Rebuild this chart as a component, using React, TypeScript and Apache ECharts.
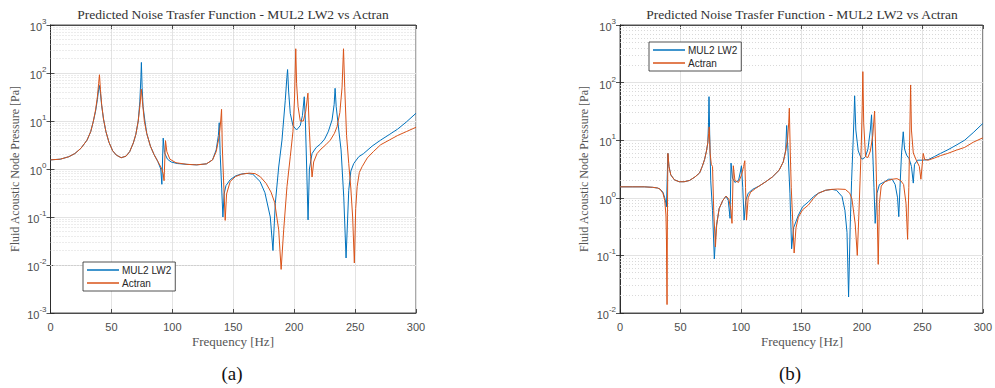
import React, { useEffect, useRef } from "react";
import * as echarts from "echarts";

// ---------- Data ----------
const xTicks = [0, 50, 100, 150, 200, 250, 300];

// (a) MUL2 LW2
const aBlueHz = [0, 8, 15, 20, 25, 30, 33, 35, 37, 38.5, 39.5, 40.1, 41, 42, 43.5, 45.5, 48, 51, 54, 58, 62, 65, 68, 70, 72, 73.3, 74.2, 74.6, 75.2, 76, 77.5, 79, 82, 85, 88, 90.5, 91.4, 92.5, 93.5, 96, 99, 104, 112, 120, 128, 133, 136, 137.8, 138.5, 139.3, 140.5, 141.5, 142.5, 144, 147.5, 152, 157, 161, 166, 172, 176, 180.4, 182.6, 184.5, 187.3, 190, 192.7, 194, 194.6, 195.5, 196.8, 199, 202, 205, 206.8, 208.3, 209.2, 210.3, 211.4, 212.5, 214.7, 218, 221.5, 225, 228, 231.1, 232.8, 233.6, 234.5, 236.6, 238.5, 240.7, 242.6, 244.8, 246.5, 248.9, 253, 257, 264, 271, 278, 285, 292, 300];
const aBlueVal = [1.55, 1.6, 1.8, 2.1, 2.7, 4.0, 6, 9.5, 16, 28, 45, 55, 38, 21, 11, 6, 3.6, 2.4, 1.95, 1.72, 1.85, 2.3, 3.5, 5.2, 10, 25, 80, 166, 50, 20, 10, 5.5, 3, 2, 1.45, 1.0, 0.48, 4.4, 2.2, 1.6, 1.4, 1.3, 1.25, 1.22, 1.28, 1.55, 2.5, 5, 9.2, 2, 0.4, 0.1, 0.3, 0.45, 0.6, 0.72, 0.79, 0.81, 0.78, 0.55, 0.32, 0.1, 0.02, 0.19, 1.1, 4, 27, 80, 118, 40, 14.4, 8, 6.5, 8, 13, 32, 10, 1, 0.087, 1, 2.1, 2.8, 3.3, 4.2, 6, 10.5, 22, 48, 20, 6.5, 2.5, 0.26, 0.014, 0.36, 0.9, 1.3, 1.8, 2.1, 3.0, 4.0, 5.2, 6.8, 9.5, 14.5];

// (a) Actran
const aOrangeHz = [0, 8, 15, 20, 25, 30, 33, 35, 37, 38.5, 39.5, 40.2, 41, 42, 43.5, 45.5, 48, 51, 54, 58, 62, 65, 68, 70, 72, 73.5, 74.5, 75.5, 77, 79, 82, 85, 88, 91, 92.5, 93.2, 94.4, 95.5, 98, 103, 112, 120, 128, 133, 136, 138.5, 139.7, 140.4, 141, 142.3, 143.4, 144.5, 147.5, 152, 157, 163, 168, 172.2, 177, 181, 184, 187.3, 189.3, 191.4, 194.1, 196.8, 199, 200.3, 201.3, 202, 203.2, 205, 207.5, 209.5, 211.3, 212.3, 213.5, 214.7, 216, 218.8, 222, 226, 229.7, 233, 235.2, 237.5, 239.3, 240.5, 241.5, 243, 244.8, 246.5, 248, 249.4, 250.5, 251.7, 253.5, 255.8, 260, 265, 271, 278, 285, 292, 300];
const aOrangeVal = [1.55, 1.6, 1.8, 2.1, 2.7, 4.0, 6, 9.5, 17, 32, 60, 92, 45, 22, 11, 6, 3.6, 2.4, 1.95, 1.72, 1.85, 2.3, 3.5, 5.2, 10, 22, 46, 25, 10, 5.5, 3, 2, 1.45, 1.05, 0.8, 0.57, 3.9, 2.3, 1.6, 1.35, 1.25, 1.22, 1.28, 1.55, 2.3, 4.8, 10, 17.5, 3, 0.4, 0.085, 0.3, 0.55, 0.7, 0.78, 0.82, 0.8, 0.69, 0.5, 0.33, 0.2, 0.054, 0.0081, 0.054, 0.43, 1.8, 6, 30, 320, 60, 20, 10, 10, 16, 38, 8, 1.8, 0.68, 1.4, 2.1, 2.6, 3.2, 4.0, 5.5, 7.6, 15, 50, 320, 50, 5, 1.3, 0.4, 0.1, 0.011, 0.15, 0.43, 0.85, 1.12, 1.7, 2.3, 3.2, 4.0, 5.0, 6.0, 7.4];

// (b) MUL2 LW2
const bBlueHz = [0, 10, 20, 27, 31, 33, 35.5, 37, 38, 38.4, 39.1, 39.6, 40.5, 42, 45, 49, 53, 57.5, 62, 65.8, 68, 69.9, 71.5, 72.6, 73.2, 73.6, 74.1, 75, 76.5, 78, 79.5, 82, 85, 87.7, 89.5, 91, 91.8, 93, 95, 98, 99.5, 100.4, 101.5, 102.6, 104, 106, 109.6, 115, 120.5, 126, 131.5, 135, 137, 137.8, 139, 140.5, 141.9, 143.5, 147.5, 151, 155.8, 160, 164, 170, 175.3, 179, 183.6, 186, 187.7, 189, 190.3, 191.5, 192.8, 193.6, 194, 195, 197, 199.5, 201, 203, 205, 207, 208, 209, 210, 211, 212.5, 214.5, 218.8, 222, 225, 227.5, 229.5, 230.5, 231.5, 232.8, 234.2, 235.3, 237, 239, 241, 242.5, 243.5, 246, 250, 254.8, 260, 265, 271, 278, 285, 292, 300];
const bBlueVal = [1.55, 1.55, 1.55, 1.52, 1.48, 1.42, 1.25, 1.0, 0.8, 0.7, 2.5, 5.9, 3.5, 2.5, 2.05, 1.9, 1.9, 2.0, 2.3, 2.7, 3.5, 4.6, 6.5, 9, 20, 57, 15, 2, 0.6, 0.087, 0.3, 0.65, 0.9, 1.07, 0.9, 0.44, 4.0, 2.2, 1.85, 2.0, 2.8, 3.6, 1.5, 0.41, 0.9, 1.2, 1.4, 1.6, 1.9, 2.3, 3.0, 4.2, 6.7, 18, 6, 1.2, 0.13, 0.3, 0.5, 0.7, 0.85, 1.05, 1.2, 1.35, 1.4, 1.35, 1.05, 0.6, 0.25, 0.019, 0.3, 2, 10, 30, 59, 15, 6.5, 4.8, 4.7, 5.2, 7, 15, 27.6, 6, 1.5, 0.36, 1.2, 1.7, 1.9, 2.1, 2.1, 1.7, 1.0, 0.47, 1.5, 6, 14, 7, 5.5, 4.8, 3.5, 1.8, 3.8, 4.5, 4.5, 4.6, 5.2, 5.9, 6.8, 8.2, 10, 13.5, 19.5];

// (b) Actran
const bOrangeHz = [0, 10, 20, 27, 31, 33, 35.5, 37, 38, 38.4, 38.9, 39.2, 39.6, 40.5, 42, 45, 49, 53, 57.5, 62, 65.8, 68, 69.9, 71.5, 72.6, 73.3, 73.8, 74.5, 75.5, 76.5, 77.5, 78.9, 80, 82, 85, 87.7, 90, 91.8, 92.6, 93.7, 95, 98, 100.5, 102.2, 103.2, 103.8, 104.6, 106, 108, 112, 120.5, 126, 131.5, 135, 137, 138.5, 139.5, 140, 140.8, 141.6, 142.8, 144, 145.5, 147.5, 151, 155.8, 160, 164, 170, 175.3, 180, 186.3, 190, 191.8, 194.5, 196.2, 197.5, 198.5, 199.5, 200.3, 200.8, 201.5, 203, 205, 207, 209, 210.5, 211.5, 212.5, 213.5, 214.5, 216, 219, 222, 225, 229, 232, 234.5, 236.5, 237.8, 238.8, 239.5, 240.3, 241, 242.5, 245, 247.5, 248.8, 250, 250.7, 252, 254.8, 260, 265, 271, 278, 285, 292, 300];
const bOrangeVal = [1.55, 1.55, 1.55, 1.52, 1.48, 1.42, 1.2, 0.9, 0.5, 0.2, 0.014, 0.5, 5.9, 3.5, 2.5, 2.05, 1.9, 1.9, 2.0, 2.3, 2.7, 3.5, 4.6, 6.5, 9, 13, 17, 6, 3.8, 3.5, 0.6, 0.14, 0.35, 0.65, 0.9, 1.07, 0.95, 0.6, 0.36, 3.6, 2.0, 1.85, 2.5, 3.5, 4.4, 1.5, 0.41, 1.0, 1.25, 1.45, 1.9, 2.3, 3.0, 4.2, 6.5, 10, 20, 36, 6, 1.5, 0.4, 0.11, 0.3, 0.46, 0.62, 0.75, 0.98, 1.2, 1.35, 1.4, 1.42, 1.4, 1.2, 0.95, 0.35, 0.1, 0.5, 2, 8, 40, 155, 20, 5.2, 5.0, 6.5, 12, 32, 6, 0.8, 0.07, 0.8, 1.6, 1.9, 2.0, 2.1, 2.15, 2.0, 1.7, 0.8, 0.19, 1.5, 10, 91, 15, 6, 4.5, 3.5, 2.1, 4, 5.9, 4.6, 4.5, 4.9, 5.4, 5.9, 6.7, 7.5, 9.2, 11];

const seriesNames = ["MUL2 LW2", "Actran"];
const titleText = "Predicted Noise Trasfer Function - MUL2 LW2 vs Actran";
const xName = "Frequency [Hz]";
const yName = "Fluid Acoustic Node Pressure [Pa]";
const captions = ["(a)", "(b)"];
const aDecades = [-3, -2, -1, 0, 1, 2];
const bDecades = [-2, -1, 0, 1, 2];
const minorMultipliers = [2, 3, 4, 5, 6, 7, 8, 9];

const BLUE = "#0072BD";
const ORANGE = "#D95319";
const AX = "#262626";
const SANS = "'Liberation Sans', Arial, sans-serif";
const SERIF = "'Liberation Serif', 'DejaVu Serif', serif";

const zip = (xs: number[], ys: number[]) => xs.map((x, i) => [x, ys[i]]);

const minorLines = (decades: number[]) =>
  decades.flatMap((d) => minorMultipliers.map((m) => ({ yAxis: m * Math.pow(10, d) })));

export default function App() {
  const ref = useRef<HTMLDivElement>(null);
  useEffect(() => {
    if (!ref.current) return;
    const chart = echarts.init(ref.current, null, { renderer: "svg" });

    const grids = [
      { left: 50.5, top: 25, width: 365.5, height: 288 },
      { left: 620, top: 25, width: 365, height: 288 },
    ];

    const xAxisBase = (gi: number, pos: string, labels: boolean) => ({
      type: "value",
      gridIndex: gi,
      position: pos,
      min: 0,
      max: 300,
      interval: 50,
      axisLine: { show: true, lineStyle: { color: AX, width: 0.8 } },
      axisTick: { show: true, inside: true, length: 4, lineStyle: { color: AX, width: 0.8 } },
      axisLabel: {
        show: labels,
        margin: 8,
        fontFamily: SANS,
        fontSize: 11,
        color: "#4d4d4d",
        formatter: (v: number) => (xTicks.includes(v) ? String(v) : ""),
      },
      splitLine: { show: labels, lineStyle: { color: "#e3e3e3", width: 1 } },
    });

    const yAxisBase = (gi: number, pos: string, labels: boolean, min: number) => ({
      type: "log",
      logBase: 10,
      gridIndex: gi,
      position: pos,
      min,
      max: 1000,
      interval: 1,
      axisLine: { show: true, lineStyle: { color: AX, width: 0.8 } },
      axisTick: { show: true, inside: true, length: 4, lineStyle: { color: AX, width: 0.8 } },
      axisLabel: {
        show: labels,
        margin: 4,
        fontFamily: SANS,
        color: "#4d4d4d",
        formatter: (v: number) => `{b|10}{e|${Math.round(Math.log10(v))}}`,
        rich: {
          b: { fontSize: 11, fontFamily: SANS, color: "#4d4d4d", lineHeight: 15, verticalAlign: "bottom" },
          e: { fontSize: 8, fontFamily: SANS, color: "#4d4d4d", lineHeight: 15, verticalAlign: "top" },
        },
      },
      splitLine: { show: labels, lineStyle: { color: "#e3e3e3", width: 1 } },
    });

    const minorStyle = { color: "#cfcfcf", width: 0.8, type: [1, 2] };

    const mkSeries = (name: string, color: string, gi: number, data: number[][], decades: number[] | null) => ({
      type: "line",
      name,
      xAxisIndex: gi,
      yAxisIndex: gi,
      data,
      showSymbol: false,
      symbol: "none",
      smooth: false,
      z: name === "Actran" ? 4 : 3,
      lineStyle: { color, width: 1 },
      itemStyle: { color },
      markLine: decades
        ? {
            silent: true,
            z: 1,
            symbol: ["none", "none"],
            label: { show: false },
            lineStyle: minorStyle,
            emphasis: { disabled: true },
            data: minorLines(decades),
          }
        : undefined,
    });

    const legendBase = (left: number, top: number) => ({
      orient: "vertical",
      left,
      top,
      data: seriesNames,
      icon: "rect",
      itemWidth: 32,
      itemHeight: 1.5,
      itemGap: 3,
      padding: [3, 4, 3, 4],
      backgroundColor: "#fff",
      borderColor: AX,
      borderWidth: 0.8,
      borderRadius: 0,
      selectedMode: false,
      textStyle: { fontFamily: SANS, fontSize: 10, color: AX, padding: [0, 0, 0, -2] },
    });

    const centers = [233, 802];
    const yNameX = [15, 584];
    const graphic: any[] = [];
    centers.forEach((cx, i) => {
      graphic.push({
        type: "text",
        x: cx,
        y: 14,
        style: { text: titleText, font: `13.5px ${SERIF}`, fill: "#333", textAlign: "center", textVerticalAlign: "middle" },
      });
      graphic.push({
        type: "text",
        x: cx,
        y: 341,
        style: { text: xName, font: `13px ${SERIF}`, fill: "#555", textAlign: "center", textVerticalAlign: "middle" },
      });
      graphic.push({
        type: "text",
        x: yNameX[i],
        y: 169,
        rotation: Math.PI / 2,
        style: { text: yName, font: `12px ${SERIF}`, fill: "#555", textAlign: "center", textVerticalAlign: "middle" },
      });
      graphic.push({
        type: "text",
        x: i === 0 ? 232 : 790,
        y: 373,
        style: { text: captions[i], font: `19px ${SERIF}`, fill: "#111", textAlign: "center", textVerticalAlign: "middle" },
      });
    });

    chart.setOption({
      animation: false,
      backgroundColor: "#fff",
      grid: grids.map((g) => ({ ...g, show: true, borderColor: AX, borderWidth: 0.8, backgroundColor: "#fff" })),
      xAxis: [xAxisBase(0, "bottom", true), xAxisBase(1, "bottom", true), xAxisBase(0, "top", false), xAxisBase(1, "top", false)],
      yAxis: [
        yAxisBase(0, "left", true, 0.001),
        yAxisBase(1, "left", true, 0.01),
        yAxisBase(0, "right", false, 0.001),
        yAxisBase(1, "right", false, 0.01),
      ],
      legend: [legendBase(83, 262), legendBase(649, 42)],
      series: [
        mkSeries(seriesNames[0], BLUE, 0, zip(aBlueHz, aBlueVal), aDecades),
        mkSeries(seriesNames[1], ORANGE, 0, zip(aOrangeHz, aOrangeVal), null),
        mkSeries(seriesNames[0], BLUE, 1, zip(bBlueHz, bBlueVal), bDecades),
        mkSeries(seriesNames[1], ORANGE, 1, zip(bOrangeHz, bOrangeVal), null),
      ],
      graphic,
    });
    return () => chart.dispose();
  }, []);
  return <div ref={ref} style={{ position: "fixed", left: 0, top: 0, width: 995, height: 388, background: "#fff" }} />;
}
